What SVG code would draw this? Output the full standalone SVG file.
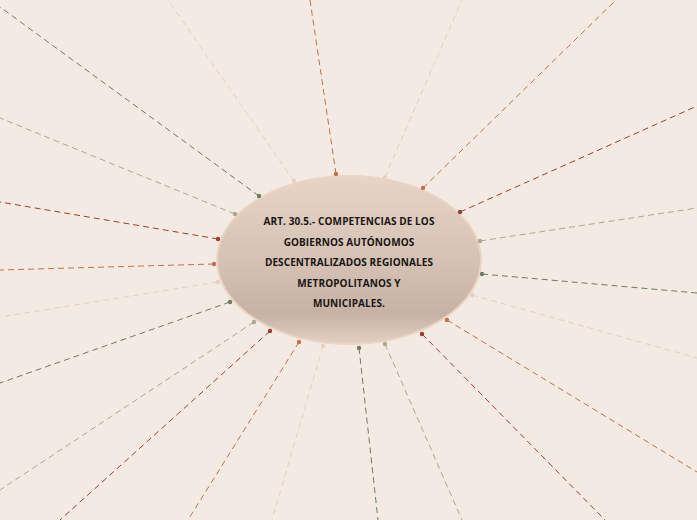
<svg xmlns="http://www.w3.org/2000/svg" width="697" height="520" viewBox="0 0 697 520">
<defs>
<linearGradient id="g" x1="0" y1="0" x2="0" y2="1">
<stop offset="0" stop-color="#e6d5c7"/>
<stop offset="0.55" stop-color="#d3c0b2"/>
<stop offset="0.82" stop-color="#c6b2a4"/>
<stop offset="1" stop-color="#e2d1c4"/>
</linearGradient>
</defs>
<style>
.c line{fill:none;stroke-width:1;stroke-dasharray:6 4}
.gr{stroke:#6e7a62}.pe{stroke:#e8d0c0}.or{stroke:#c2714c}.sa{stroke:#a9aa8c}.dr{stroke:#9b3f2c}
.d circle{r:2.2px}
.fgr{fill:#6e7a62}.fpe{fill:#e8d0c0}.for{fill:#c2714c}.fsa{fill:#a9aa8c}.fdr{fill:#9b3f2c}
.t{font-family:"Open Sans","Noto Sans","DejaVu Sans",sans-serif;font-weight:bold;font-size:10px;letter-spacing:0.1px;fill:#1a1512;text-anchor:middle}
</style>
<rect width="697" height="520" fill="#f3ebe3"/>
<g id="connectors" class="c">
<line class="gr" x1="259" y1="196" x2="0" y2="7"/>
<line class="pe" x1="294" y1="181" x2="168" y2="0"/>
<line class="or" x1="336" y1="174" x2="310" y2="0"/>
<line class="sa" x1="235" y1="214" x2="0" y2="118"/>
<line class="dr" x1="218" y1="239" x2="0" y2="202"/>
<line class="pe" x1="385" y1="177" x2="462" y2="0"/>
<line class="or" x1="423" y1="188" x2="616" y2="0"/>
<line class="dr" x1="460" y1="212" x2="697" y2="106"/>
<line class="sa" x1="480" y1="241" x2="697" y2="208"/>
<line class="or" x1="214" y1="264" x2="0" y2="270"/>
<line class="pe" x1="218" y1="282" x2="0" y2="317"/>
<line class="gr" x1="230" y1="302" x2="0" y2="383"/>
<line class="sa" x1="254" y1="322" x2="0" y2="490"/>
<line class="dr" x1="270" y1="331" x2="60" y2="520"/>
<line class="or" x1="299" y1="342" x2="188" y2="520"/>
<line class="pe" x1="323" y1="346" x2="272" y2="520"/>
<line class="gr" x1="482" y1="274" x2="697" y2="293"/>
<line class="pe" x1="472" y1="295" x2="697" y2="358"/>
<line class="or" x1="447" y1="320" x2="697" y2="472"/>
<line class="dr" x1="422" y1="334" x2="605" y2="520"/>
<line class="sa" x1="385" y1="344" x2="462" y2="520"/>
<line class="gr" x1="359" y1="348" x2="378" y2="520"/>
</g>
<g id="center">
<ellipse cx="349" cy="260" rx="132" ry="84" fill="url(#g)" stroke="#ebd4c3" stroke-width="2"/>
<text class="t" x="349" y="225">ART. 30.5.- COMPETENCIAS DE LOS</text>
<text class="t" x="349" y="246">GOBIERNOS AUTÓNOMOS</text>
<text class="t" x="349" y="266">DESCENTRALIZADOS REGIONALES</text>
<text class="t" x="349" y="287">METROPOLITANOS Y</text>
<text class="t" x="349" y="307">MUNICIPALES.</text>
</g>
<g id="dots" class="d">
<circle class="fgr" cx="259" cy="196"/>
<circle class="fpe" cx="294" cy="181"/>
<circle class="for" cx="336" cy="174"/>
<circle class="fsa" cx="235" cy="214"/>
<circle class="fdr" cx="218" cy="239"/>
<circle class="fpe" cx="385" cy="177"/>
<circle class="for" cx="423" cy="188"/>
<circle class="fdr" cx="460" cy="212"/>
<circle class="fsa" cx="480" cy="241"/>
<circle class="for" cx="214" cy="264"/>
<circle class="fpe" cx="218" cy="282"/>
<circle class="fgr" cx="230" cy="302"/>
<circle class="fsa" cx="254" cy="322"/>
<circle class="fdr" cx="270" cy="331"/>
<circle class="for" cx="299" cy="342"/>
<circle class="fpe" cx="323" cy="346"/>
<circle class="fgr" cx="482" cy="274"/>
<circle class="fpe" cx="472" cy="295"/>
<circle class="for" cx="447" cy="320"/>
<circle class="fdr" cx="422" cy="334"/>
<circle class="fsa" cx="385" cy="344"/>
<circle class="fgr" cx="359" cy="348"/>
</g>
</svg>
